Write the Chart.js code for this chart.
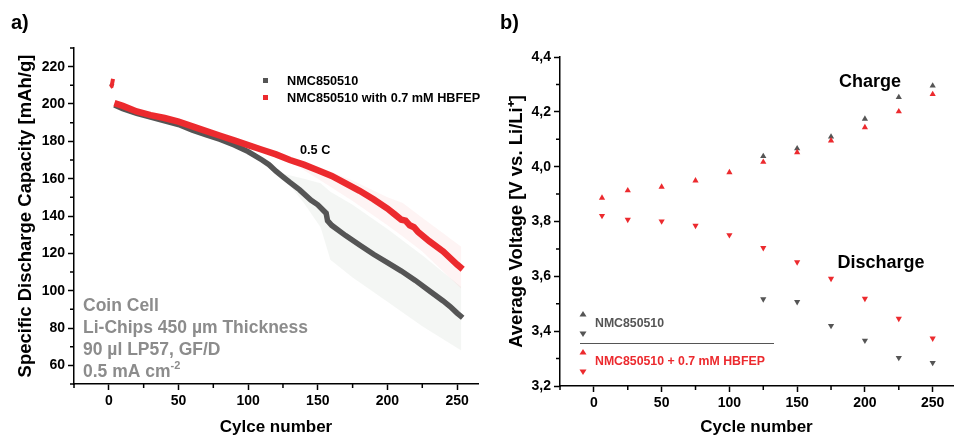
<!DOCTYPE html>
<html>
<head>
<meta charset="utf-8">
<script src="https://cdn.jsdelivr.net/npm/chart.js@4.4.1/dist/chart.umd.min.js"></script>
<style>
  body { margin: 0; background: #fff; }
  #wrap { position: relative; width: 957px; height: 438px; }
  canvas { position: absolute; top: 0; }
</style>
</head>
<body>
<div id="wrap">
  <canvas id="chartA" width="480" height="438" style="left:0"></canvas>
  <canvas id="chartB" width="477" height="438" style="left:480px"></canvas>
</div>
<script>
// ---- panel a) specific discharge capacity ----
const formationCycles = [1, 2, 3];
const formationRed = [209, 209.5, 213.5];
const formationGray = [209.5, 210, 211];

const redCycles = [4, 10, 20, 30, 40, 50, 60, 70, 80, 90, 100, 110, 120, 130, 140, 150, 160, 170, 180, 190, 200, 205, 210, 213, 216, 219, 222, 230, 240, 250, 254];
const redCapacity = [200.5, 199, 196, 194, 192.5, 190.5, 188, 185.5, 183, 180.5, 178, 175.5, 173, 170, 167.5, 164.5, 161.5, 157.5, 153.5, 149, 144, 141, 138, 137.5, 135, 134, 131.5, 126.5, 121, 114, 111.5];

const grayCycles = [4, 10, 20, 30, 40, 50, 60, 70, 80, 90, 100, 110, 115, 120, 125, 130, 137, 145, 150, 156, 157, 160, 170, 180, 190, 200, 210, 220, 230, 240, 245, 250, 254];
const grayCapacity = [199.5, 197.5, 195, 193, 191, 189, 186, 183.5, 181, 178, 174.5, 170, 167.5, 164, 161, 158, 154, 148.5, 146, 141.5, 137.5, 135, 129.5, 124.5, 119.5, 115, 110.5, 105.5, 100, 94.5, 91.5, 88, 85.5];

// error bands
const grayBandCycles = [123, 140, 152, 159, 175, 200, 225, 253];
const grayBandHigh = [163, 160, 157.5, 153, 146, 133, 119, 102];
const grayBandLow = [163, 147, 134, 116.5, 107, 94, 81, 68];
const redBandCycles = [130, 150, 175, 200, 211, 225, 253];
const redBandHigh = [171, 166.5, 159, 150, 147, 139, 123.5];
const redBandLow = [169, 160, 148, 135, 129, 121, 101];

const xTicks = [0, 50, 100, 150, 200, 250];
const xMinor = [-25, 25, 75, 125, 175, 225];
const yTicksA = [60, 80, 100, 120, 140, 160, 180, 200, 220];
const yMinorA = [50, 70, 90, 110, 130, 150, 170, 190, 210, 230];

// ---- panel b) average voltage ----
const voltCycles = [6, 25, 50, 75, 100, 125, 150, 175, 200, 225, 250];
const chargeRed = [3.886, 3.913, 3.926, 3.949, 3.979, 4.017, 4.052, 4.095, 4.143, 4.201, 4.264];
const dischargeRed = [3.821, 3.807, 3.801, 3.785, 3.751, 3.704, 3.652, 3.592, 3.519, 3.446, 3.374];
const chargeGray = [null, null, null, null, null, 4.038, 4.066, 4.109, 4.174, 4.253, 4.295];
const dischargeGray = [null, null, null, null, null, 3.517, 3.507, 3.420, 3.366, 3.303, 3.285];

const yTicksB = [3.2, 3.4, 3.6, 3.8, 4.0, 4.2, 4.4];
const yMinorB = [3.3, 3.5, 3.7, 3.9, 4.1, 4.3];

const RED = '#ec2a2e';
const GRAY = '#555555';
const FONT = '"Liberation Sans", Arial, sans-serif';

const pts = (xs, ys) => xs.map((x, i) => ({ x: x, y: ys[i] }));

// minor tick marks (Chart.js has no minor ticks)
function minorTicks(xs, ys) {
  return {
    id: 'minorTicks',
    afterDraw(chart) {
      const ctx = chart.ctx, a = chart.chartArea;
      const sx = chart.scales.x, sy = chart.scales.y;
      ctx.save();
      ctx.strokeStyle = '#000';
      ctx.lineWidth = 1.5;
      ctx.beginPath();
      xs.forEach(v => {
        const p = sx.getPixelForValue(v);
        ctx.moveTo(p, a.bottom);
        ctx.lineTo(p, a.bottom + 4);
      });
      ys.forEach(v => {
        const p = sy.getPixelForValue(v);
        ctx.moveTo(a.left, p);
        ctx.lineTo(a.left - 4, p);
      });
      ctx.stroke();
      ctx.restore();
    }
  };
}

function font(size) {
  return 'bold ' + size + 'px ' + FONT;
}

const annotA = {
  id: 'annotA',
  afterDraw(chart) {
    const ctx = chart.ctx;
    ctx.save();
    ctx.textBaseline = 'middle';
    ctx.fillStyle = '#000';
    ctx.font = font(20);
    ctx.fillText('a)', 11, 23);

    // legend
    ctx.fillStyle = GRAY;
    ctx.fillRect(263, 78, 5, 5);
    ctx.fillStyle = RED;
    ctx.fillRect(263, 95, 5, 5);
    ctx.fillStyle = '#000';
    ctx.font = font(12.7);
    ctx.fillText('NMC850510', 287, 81);
    ctx.fillText('NMC850510 with 0.7 mM HBFEP', 287, 98);
    ctx.fillText('0.5 C', 300, 150);

    // cell info
    ctx.fillStyle = '#8c8c8c';
    ctx.textBaseline = 'alphabetic';
    ctx.font = font(17.5);
    ctx.fillText('Coin Cell', 83, 311);
    ctx.fillText('Li-Chips 450 µm Thickness', 83, 333);
    ctx.fillText('90 µl LP57, GF/D', 83, 355);
    ctx.fillText('0.5 mA cm', 83, 377);
    const w = ctx.measureText('0.5 mA cm').width;
    ctx.font = font(11);
    ctx.fillText('-2', 83 + w, 369);
    ctx.restore();
  }
};

const annotB = {
  id: 'annotB',
  afterDraw(chart) {
    const ctx = chart.ctx;
    ctx.save();
    ctx.textBaseline = 'middle';
    ctx.fillStyle = '#000';
    ctx.font = font(20);
    ctx.fillText('b)', 20, 23);
    ctx.font = font(18);
    ctx.textAlign = 'center';
    ctx.fillText('Charge', 390, 82);
    ctx.fillText('Discharge', 401, 263);
    ctx.textAlign = 'left';

    // legend
    const tri = (x, y, up, col) => {
      ctx.fillStyle = col;
      ctx.beginPath();
      if (up) { ctx.moveTo(x, y - 3); ctx.lineTo(x + 3.5, y + 2.5); ctx.lineTo(x - 3.5, y + 2.5); }
      else { ctx.moveTo(x, y + 3); ctx.lineTo(x + 3.5, y - 2.5); ctx.lineTo(x - 3.5, y - 2.5); }
      ctx.fill();
    };
    tri(103, 314, true, GRAY);
    tri(103, 334, false, GRAY);
    tri(103, 352, true, RED);
    tri(103, 372, false, RED);
    ctx.font = font(12.3);
    ctx.fillStyle = GRAY;
    ctx.fillText('NMC850510', 115, 324);
    ctx.fillStyle = RED;
    ctx.fillText('NMC850510 + 0.7 mM HBFEP', 115, 362);
    ctx.strokeStyle = GRAY;
    ctx.lineWidth = 1;
    ctx.beginPath();
    ctx.moveTo(100, 343.5);
    ctx.lineTo(294, 343.5);
    ctx.stroke();
    ctx.restore();
  }
};

function axisX(title, height) {
  return {
    type: 'linear', min: -25, max: 265,
    afterBuildTicks: s => { s.ticks = xTicks.map(v => ({ value: v })); },
    afterFit: s => { s.height = height; },
    grid: { drawOnChartArea: false, tickLength: 6, tickColor: '#000', tickWidth: 1.5 },
    border: { color: '#000', width: 1.5 },
    ticks: { color: '#000', font: { size: 14, weight: 'bold', family: FONT }, padding: 3, maxRotation: 0 },
    title: { display: true, text: title, color: '#000', font: { size: 17, weight: 'bold', family: FONT }, padding: { top: 0, bottom: 0 } }
  };
}

function axisY(title, min, max, ticks, width, titlePad, fmt) {
  return {
    min: min, max: max,
    afterBuildTicks: s => { s.ticks = ticks.map(v => ({ value: v })); },
    afterFit: s => { s.width = width; },
    grid: { drawOnChartArea: false, tickLength: 6, tickColor: '#000', tickWidth: 1.5 },
    border: { color: '#000', width: 1.5 },
    ticks: { color: '#000', font: { size: 14, weight: 'bold', family: FONT }, padding: 3, callback: fmt },
    title: { display: true, text: title, color: '#000', font: { size: 18.5, weight: 'bold', family: FONT }, padding: { top: titlePad, bottom: 0 } }
  };
}

const lineDs = (data, color, width) => ({
  data: data, borderColor: color, borderWidth: width, pointRadius: 0, fill: false, tension: 0
});

new Chart(document.getElementById('chartA'), {
  type: 'line',
  data: {
    datasets: [
      lineDs(pts(formationCycles, formationRed), RED, 4),
      lineDs(pts(redCycles, redCapacity), RED, 6.5),
      lineDs(pts(formationCycles, formationGray), GRAY, 3.5),
      lineDs(pts(grayCycles, grayCapacity), GRAY, 5.5),
      { data: pts(redBandCycles, redBandHigh), borderWidth: 0, pointRadius: 0, fill: '+1', backgroundColor: 'rgba(236,60,60,0.06)' },
      { data: pts(redBandCycles, redBandLow), borderWidth: 0, pointRadius: 0, fill: false },
      { data: pts(grayBandCycles, grayBandHigh), borderWidth: 0, pointRadius: 0, fill: '+1', backgroundColor: 'rgba(110,135,120,0.08)' },
      { data: pts(grayBandCycles, grayBandLow), borderWidth: 0, pointRadius: 0, fill: false }
    ]
  },
  options: {
    responsive: false, animation: false, devicePixelRatio: 1,
    layout: { padding: { top: 48, right: 2, left: 0, bottom: 0 } },
    plugins: { legend: { display: false }, tooltip: { enabled: false } },
    scales: {
      x: axisX('Cylce number', 54),
      y: axisY('Specific Discharge Capacity [mAh/g]', 50, 230, yTicksA, 74, 15, v => v)
    }
  },
  plugins: [minorTicks(xMinor, yMinorA), annotA]
});

const triDs = (ys, color, down) => ({
  data: pts(voltCycles, ys), showLine: false, pointStyle: 'triangle', rotation: down ? 180 : 0,
  pointRadius: 3.6, borderWidth: 0, backgroundColor: color, borderColor: color
});

new Chart(document.getElementById('chartB'), {
  type: 'line',
  data: {
    datasets: [
      triDs(chargeRed, RED, false),
      triDs(dischargeRed, RED, true),
      triDs(chargeGray, GRAY, false),
      triDs(dischargeGray, GRAY, true)
    ]
  },
  options: {
    responsive: false, animation: false, devicePixelRatio: 1,
    layout: { padding: { top: 57, right: 2, left: 0, bottom: 0 } },
    plugins: { legend: { display: false }, tooltip: { enabled: false } },
    scales: {
      x: axisX('Cycle number', 52),
      y: axisY('Average Voltage [V vs. Li/Li\u207A]', 3.2, 4.4, yTicksB, 80, 26, v => v.toFixed(1).replace('.', ','))
    }
  },
  plugins: [minorTicks(xMinor, yMinorB), annotB]
});
</script>
</body>
</html>
